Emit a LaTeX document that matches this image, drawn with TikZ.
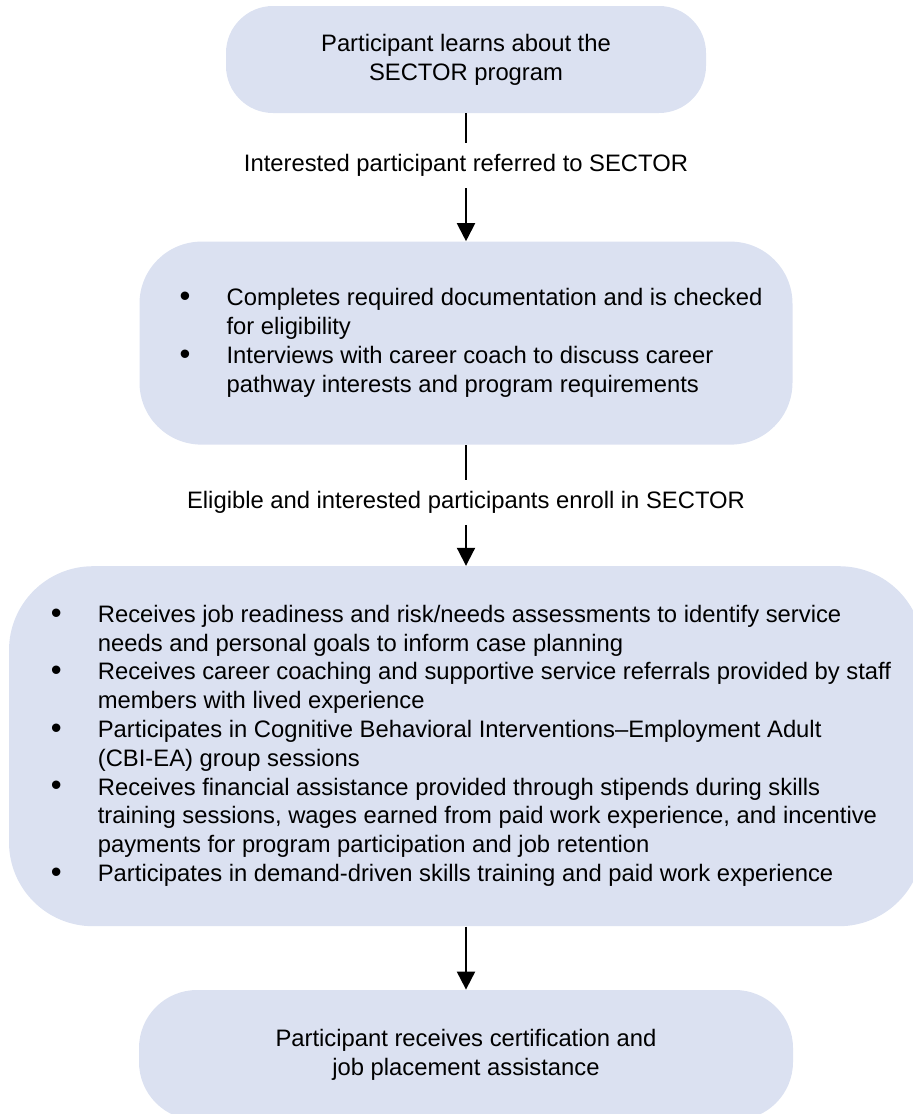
\documentclass[tikz,border=0pt]{standalone}
\usepackage{fontspec}
\setmainfont{Liberation Sans}
\usetikzlibrary{arrows.meta, positioning}

\definecolor{boxfill}{RGB}{219,225,241}

% bullet list with hanging second lines
\newcommand{\bul}{\raisebox{-0.4pt}{\scalebox{1.3}{\textbullet}}}
\newcommand{\itemlist}[1]{\begin{tabular}{@{\hspace{5pt}}p{23.5pt}@{}l@{}}#1\end{tabular}}

\begin{document}
\begin{tikzpicture}[
        box/.style={rectangle, fill=boxfill, align=center, inner sep=0pt, font=\fontsize{11.9}{14.4}\selectfont},
        note/.style={inner sep=0pt, minimum height=22pt, font=\fontsize{11.9}{14.4}\selectfont},
        link/.style={line width=1pt},
        arrow/.style={link, -{Triangle[length=9pt, width=9pt]}}
    ]
        \useasboundingbox (0,0) rectangle (456.5pt,-557pt);

        \node[box, minimum width=240pt, minimum height=53.5pt, rounded corners=23.5pt] (learn) at (233pt,-29.75pt) {Participant learns about the\\SECTOR program};
        \node[note, below=15pt of learn] (refer) {Interested participant referred to SECTOR};

        \node[box, below=26.5pt of refer, minimum width=326.5pt, minimum height=101.5pt, rounded corners=31pt] (screen) {\itemlist{
            \bul & Completes required documentation and is checked\\
                 & for eligibility\\
            \bul & Interviews with career coach to discuss career\\
                 & pathway interests and program requirements}};
        \node[note, below=17.5pt of screen] (enroll) {Eligible and interested participants enroll in SECTOR};

        \node[box, below=20.5pt of enroll, minimum width=457pt, minimum height=180pt, rounded corners=42pt] (services) {\itemlist{
            \bul & Receives job readiness and risk/needs assessments to identify service\\
                 & needs and personal goals to inform case planning\\
            \bul & Receives career coaching and supportive service referrals provided by staff\\
                 & members with lived experience\\
            \bul & Participates in Cognitive Behavioral Interventions–Employment Adult\\
                 & (CBI-EA) group sessions\\
            \bul & Receives financial assistance provided through stipends during skills\\
                 & training sessions, wages earned from paid work experience, and incentive\\
                 & payments for program participation and job retention\\
            \bul & Participates in demand-driven skills training and paid work experience}};

        \node[box, below=31.5pt of services, minimum width=327pt, minimum height=65pt, rounded corners=29pt] (placement) {Participant receives certification and\\job placement assistance};

        \draw[link] (learn) -- (refer);
        \draw[arrow] (refer) -- (screen);
        \draw[link] (screen) -- (enroll);
        \draw[arrow] (enroll) -- (services);
        \draw[arrow] (services) -- (placement);
    \end{tikzpicture}
\end{document}
